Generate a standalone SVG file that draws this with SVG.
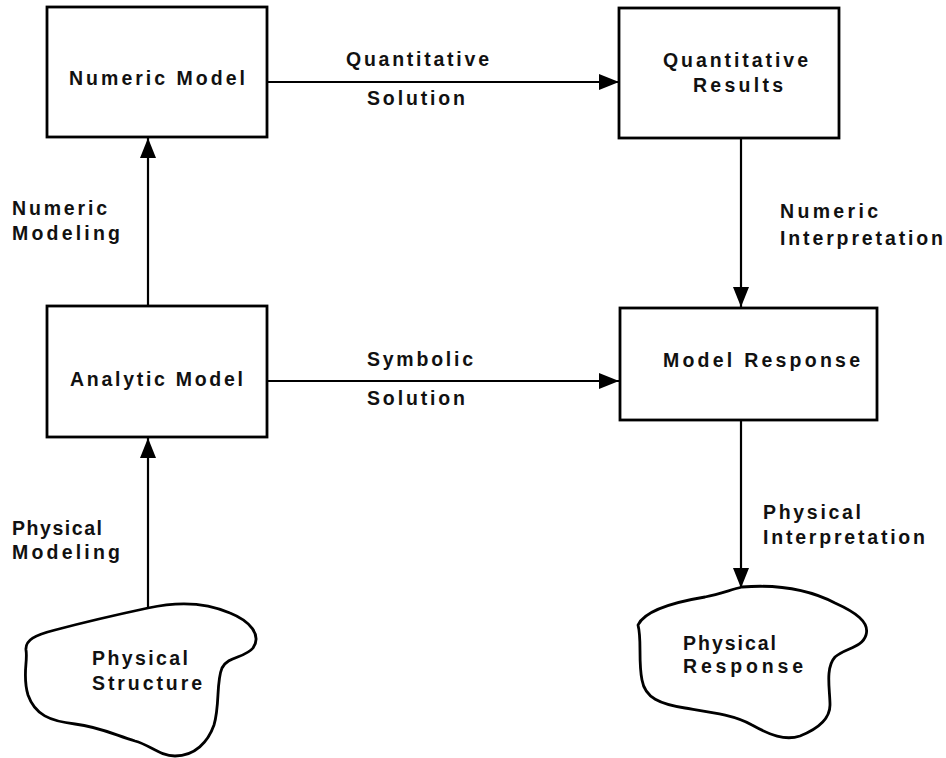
<svg xmlns="http://www.w3.org/2000/svg" width="946" height="758" viewBox="0 0 946 758">
<style>
.box{fill:#fff;stroke:#000;stroke-width:2.8}
.cloud{fill:#fff;stroke:#000;stroke-width:2.8;stroke-linejoin:round}
.ln{fill:none;stroke:#000;stroke-width:2.2}
text{font-family:"Liberation Sans",Arial,sans-serif;font-weight:bold;font-size:19.5px;fill:#111}
</style>
<defs>
<marker id="ah" viewBox="0 0 20 16" refX="20" refY="8" markerWidth="20" markerHeight="16" orient="auto" markerUnits="userSpaceOnUse">
<path d="M0,0 L20,8 L0,16 Z" fill="#000"/>
</marker>
</defs>
<rect width="946" height="758" fill="#fff"/>
<g id="connectors">
<line class="ln" x1="267" y1="82" x2="619" y2="82" marker-end="url(#ah)"/>
<line class="ln" x1="148" y1="306" x2="148" y2="138" marker-end="url(#ah)"/>
<line class="ln" x1="741" y1="138" x2="741" y2="307" marker-end="url(#ah)"/>
<line class="ln" x1="267" y1="381" x2="619" y2="381" marker-end="url(#ah)"/>
<line class="ln" x1="148" y1="608" x2="148" y2="438" marker-end="url(#ah)"/>
<line class="ln" x1="741" y1="420" x2="741" y2="588" marker-end="url(#ah)"/>
<text x="346" y="66" textLength="143" lengthAdjust="spacing">Quantitative</text>
<text x="367" y="105" textLength="98" lengthAdjust="spacing">Solution</text>
<text x="367" y="366" textLength="106" lengthAdjust="spacing">Symbolic</text>
<text x="367" y="405" textLength="98" lengthAdjust="spacing">Solution</text>
<text x="12" y="215" textLength="95" lengthAdjust="spacing">Numeric</text>
<text x="12" y="240" textLength="108" lengthAdjust="spacing">Modeling</text>
<text x="12" y="535" textLength="90" lengthAdjust="spacing">Physical</text>
<text x="12" y="559" textLength="108" lengthAdjust="spacing">Modeling</text>
<text x="780" y="218" textLength="98" lengthAdjust="spacing">Numeric</text>
<text x="780" y="245" textLength="163" lengthAdjust="spacing">Interpretation</text>
<text x="763" y="519" textLength="98" lengthAdjust="spacing">Physical</text>
<text x="763" y="544" textLength="162" lengthAdjust="spacing">Interpretation</text>
</g>
<g id="numeric-model">
<rect class="box" x="47" y="7" width="220" height="130"/>
<text x="69" y="85" textLength="176" lengthAdjust="spacing">Numeric  Model</text>
</g>
<g id="quantitative-results">
<rect class="box" x="619" y="8" width="220" height="130"/>
<text x="663" y="67" textLength="145" lengthAdjust="spacing">Quantitative</text>
<text x="693" y="92" textLength="90" lengthAdjust="spacing">Results</text>
</g>
<g id="analytic-model">
<rect class="box" x="47" y="306" width="220" height="131"/>
<text x="70" y="386" textLength="173" lengthAdjust="spacing">Analytic  Model</text>
</g>
<g id="model-response">
<rect class="box" x="620" y="308" width="257" height="112"/>
<text x="663" y="367" textLength="197" lengthAdjust="spacing">Model  Response</text>
</g>
<g id="physical-structure">
<path class="cloud" d="M148,608 C175,602 205,602 230,613 C250,621 262,635 253,648 C245,658 228,656 222,668 C216,682 220,705 214,725 C208,742 195,756 175,756 C160,756 150,745 135,741 C115,735 100,727 75,724 C50,721 35,715 28,695 C22,675 28,662 26,650 C25,640 35,635 55,630 C85,622 120,614 148,608 Z"/>
<text x="92" y="665" textLength="96" lengthAdjust="spacing">Physical</text>
<text x="92" y="690" textLength="110" lengthAdjust="spacing">Structure</text>
</g>
<g id="physical-response">
<path class="cloud" d="M742,587 C780,584 810,590 835,603 C855,612 870,622 866,635 C862,648 845,648 835,657 C825,668 830,690 830,705 C830,720 815,730 800,736 C785,741 770,735 752,725 C735,715 710,712 685,708 C660,704 645,698 642,680 C638,660 642,640 638,625 C645,610 675,602 705,597 C720,594 730,590 742,587 Z"/>
<text x="683" y="650" textLength="93" lengthAdjust="spacing">Physical</text>
<text x="683" y="673" textLength="120" lengthAdjust="spacing">Response</text>
</g>
</svg>
